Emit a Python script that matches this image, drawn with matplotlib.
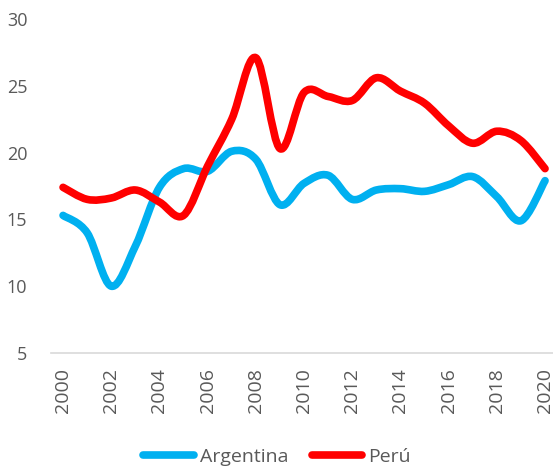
import matplotlib.pyplot as plt
import numpy as np
from matplotlib.path import Path
from matplotlib.patches import PathPatch
from matplotlib.lines import Line2D

plt.rcParams['font.family'] = ['Open Sans', 'DejaVu Sans']

years = list(range(2000, 2021))
argentina = [15.3, 14.0, 10.0, 13.0, 17.4, 18.8, 18.6, 20.1, 19.5, 16.1, 17.7,
             18.3, 16.5, 17.2, 17.3, 17.1, 17.6, 18.2, 16.7, 14.9, 17.9]
peru = [17.4, 16.5, 16.6, 17.2, 16.3, 15.3, 19.0, 22.5, 27.1, 20.3, 24.5,
        24.2, 23.9, 25.6, 24.6, 23.7, 22.0, 20.7, 21.6, 20.9, 18.8]
yticks = [5, 10, 15, 20, 25, 30]
xticks = years[::2]

blue = '#00B0F0'
red = '#FF0000'
grey = '#595959'


def smooth_path(xs, ys):
    # excel-like smoothed line: cubic bezier through every point
    pts = np.column_stack([xs, ys]).astype(float)
    n = len(pts)
    verts = [pts[0]]
    codes = [Path.MOVETO]
    for i in range(n - 1):
        p0 = pts[max(i - 1, 0)]
        p1 = pts[i]
        p2 = pts[i + 1]
        p3 = pts[min(i + 2, n - 1)]
        verts += [p1 + (p2 - p0) / 6, p2 - (p3 - p1) / 6, p2]
        codes += [Path.CURVE4] * 3
    return Path(verts, codes)


fig = plt.figure(figsize=(5.53, 4.70), dpi=100)
ax = fig.add_axes([51/553, 1 - 353/470, 502/553, 334/470])

for vals, col in [(argentina, blue), (peru, red)]:
    ax.add_patch(PathPatch(smooth_path(years, vals), facecolor='none',
                           edgecolor=col, lw=5.5, capstyle='round',
                           joinstyle='round'))

ax.set_xlim(1999.5, 2020.33)
ax.set_ylim(5, 30)
ax.set_xticks(xticks)
ax.set_xticklabels([str(y) for y in xticks], rotation=90)
ax.set_yticks(yticks)

for s in ['top', 'right', 'left']:
    ax.spines[s].set_visible(False)
ax.spines['bottom'].set_color('#D9D9D9')
ax.spines['bottom'].set_linewidth(1.2)
ax.tick_params(axis='y', length=0, labelsize=13, colors=grey, pad=17)
ax.tick_params(axis='x', length=0, labelsize=14, colors=grey, pad=11)

handles = [Line2D([], [], color=blue, lw=5.5, solid_capstyle='round'),
           Line2D([], [], color=red, lw=5.5, solid_capstyle='round')]
leg = fig.legend(handles, ['Argentina', 'Perú'], loc='center',
                 bbox_to_anchor=(277/553, 1 - 457/470), ncol=2, frameon=False,
                 fontsize=14, handlelength=2.6, handletextpad=0.3,
                 columnspacing=1.2)
for t in leg.get_texts():
    t.set_color(grey)

plt.savefig('out.png', dpi=100)
